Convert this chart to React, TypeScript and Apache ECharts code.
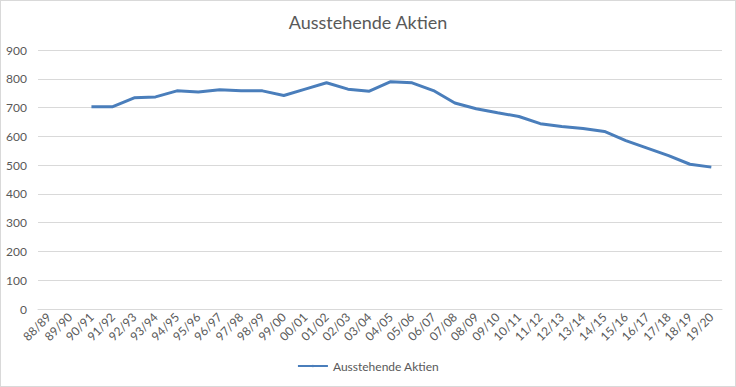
import React, { useEffect, useRef } from "react";
import * as echarts from "echarts";

const categories = [
  "88/89", "89/90", "90/91", "91/92", "92/93", "93/94", "94/95", "95/96",
  "96/97", "97/98", "98/99", "99/00", "00/01", "01/02", "02/03", "03/04",
  "04/05", "05/06", "06/07", "07/08", "08/09", "09/10", "10/11", "11/12",
  "12/13", "13/14", "14/15", "15/16", "16/17", "17/18", "18/19", "19/20",
];

const aktien: (number | null)[] = [
  null, null, 703, 703, 734, 737, 758, 754, 762, 758, 758, 742, 764, 786,
  764, 757, 790, 786, 759, 716, 696, 682, 669, 644, 634, 627, 617, 585,
  559, 533, 503, 493,
];

const seriesName = "Ausstehende Aktien";
const titleText = "Ausstehende Aktien";

export default function App() {
  const ref = useRef<HTMLDivElement>(null);
  useEffect(() => {
    if (!ref.current) return;
    const chart = echarts.init(ref.current, null, { renderer: "svg" });
    const font = "Lato, 'Open Sans', sans-serif";
    chart.setOption({
      animation: false,
      backgroundColor: "#ffffff",
      textStyle: { fontFamily: font },
      title: {
        text: titleText,
        left: "center",
        top: 7,
        textStyle: { fontFamily: font, fontSize: 18, fontWeight: "normal", color: "#595959" },
      },
      grid: { left: 37, right: 13, top: 49, bottom: 77, containLabel: false },
      legend: {
        bottom: 9,
        left: "center",
        itemWidth: 30,
        itemHeight: 3,
        itemGap: 10,
        textStyle: { fontFamily: font, fontSize: 12, color: "#595959" },
        data: [seriesName],
      },
      xAxis: {
        type: "category",
        data: categories,
        boundaryGap: true,
        axisLine: { show: true, lineStyle: { color: "#d9d9d9" } },
        axisTick: { show: false },
        axisLabel: {
          rotate: 45,
          interval: 0,
          fontSize: 12,
          color: "#595959",
          fontFamily: font,
          margin: 6,
        },
      },
      yAxis: {
        type: "value",
        min: 0,
        max: 900,
        interval: 100,
        axisLine: { show: false },
        axisTick: { show: false },
        splitLine: { lineStyle: { color: "#d9d9d9" } },
        axisLabel: { fontSize: 12, color: "#595959", fontFamily: font, margin: 11 },
      },
      series: [
        {
          name: seriesName,
          type: "line",
          data: aktien,
          symbol: "none",
          connectNulls: false,
          lineStyle: { color: "#4a7ebb", width: 3 },
          itemStyle: { color: "#4a7ebb" },
        },
      ],
    });
    return () => chart.dispose();
  }, []);
  return (
    <div
      style={{
        position: "fixed",
        left: 0,
        top: 0,
        width: 736,
        height: 387,
        boxSizing: "border-box",
        border: "1px solid #d9d9d9",
        background: "#fff",
      }}
    >
      <div ref={ref} style={{ width: 734, height: 385 }} />
    </div>
  );
}
